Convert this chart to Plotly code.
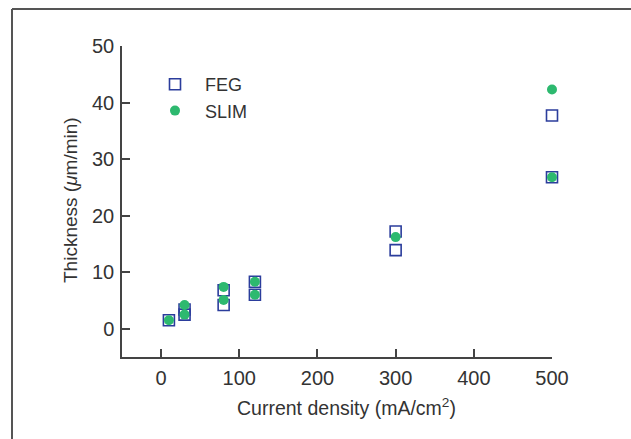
import plotly.graph_objects as go

# Data
feg_x = [10, 30, 30, 80, 80, 120, 120, 300, 300, 500, 500]
feg_y = [1.5, 3.4, 2.5, 6.8, 4.2, 8.3, 6.0, 17.2, 13.9, 37.7, 26.8]
slim_x = [10, 30, 30, 80, 80, 120, 120, 300, 500, 500]
slim_y = [1.5, 4.2, 2.5, 7.4, 5.1, 8.3, 6.0, 16.2, 42.3, 26.8]

x_ticks = [0, 100, 200, 300, 400, 500]
y_ticks = [0, 10, 20, 30, 40, 50]

FONT = "Liberation Sans, Arial, Helvetica, sans-serif"
AX = "#444444"
TXT = "#333333"
BLUE = "#2B3D9C"
GREEN = "#2DB96F"

W, H = 631, 439
L, R, T, B = 122, 79, 46, 82
PW, PH = W - L - R, H - T - B


def px(xp):
    return (xp - L) / PW


def py(yp):
    return (H - B - yp) / PH


fig = go.Figure()
fig.add_trace(go.Scatter(
    x=feg_x, y=feg_y, mode="markers", name="FEG", cliponaxis=False,
    marker=dict(symbol="square-open", size=11, color=BLUE, line=dict(width=1.6, color=BLUE)),
))
fig.add_trace(go.Scatter(
    x=slim_x, y=slim_y, mode="markers", name="SLIM", cliponaxis=False,
    marker=dict(symbol="circle", size=10, color=GREEN, line=dict(width=0)),
))

axis_common = dict(
    showline=True, linecolor=AX, linewidth=1.5,
    ticks="inside", ticklen=8, tickwidth=1.5, tickcolor=AX,
    showgrid=False, zeroline=False,
    tickfont=dict(family=FONT, size=20, color=TXT),
)

fig.update_layout(
    width=W, height=H,
    margin=dict(l=L, r=R, t=T, b=B),
    paper_bgcolor="white", plot_bgcolor="white",
    font=dict(family=FONT, size=19, color=TXT),
    xaxis=dict(range=[-50, 500], tickvals=x_ticks, ticklabelstandoff=2, **axis_common),
    yaxis=dict(range=[-5, 50], tickvals=y_ticks, ticklabelstandoff=2, **axis_common),
    legend=dict(
        x=px(145), y=py(66), xanchor="left", yanchor="top",
        bgcolor="rgba(0,0,0,0)", font=dict(family=FONT, size=18, color=TXT),
        itemwidth=50,
    ),
    showlegend=True,
    annotations=[
        dict(text="Current density (mA/cm<sup>2</sup>)", xref="paper", yref="paper",
             x=px(346), y=py(407), xanchor="center", yanchor="middle", showarrow=False,
             font=dict(family=FONT, size=19.5, color=TXT)),
        dict(text="Thickness (<i>μ</i>m/min)", xref="paper", yref="paper",
             x=px(70), y=py(200), xanchor="center", yanchor="middle", showarrow=False,
             textangle=-90, font=dict(family=FONT, size=19, color=TXT)),
    ],
    shapes=[
        dict(type="line", xref="paper", yref="paper",
             x0=px(12), x1=px(W + 2), y0=py(9), y1=py(9),
             line=dict(color="#555555", width=2)),
        dict(type="line", xref="paper", yref="paper",
             x0=px(12), x1=px(12), y0=py(9), y1=py(H + 2),
             line=dict(color="#555555", width=2)),
    ],
)

fig.write_html(
    "out.html",
    config={"displayModeBar": False},
    post_script="document.body.style.margin='0';document.body.style.overflow='hidden';",
)
